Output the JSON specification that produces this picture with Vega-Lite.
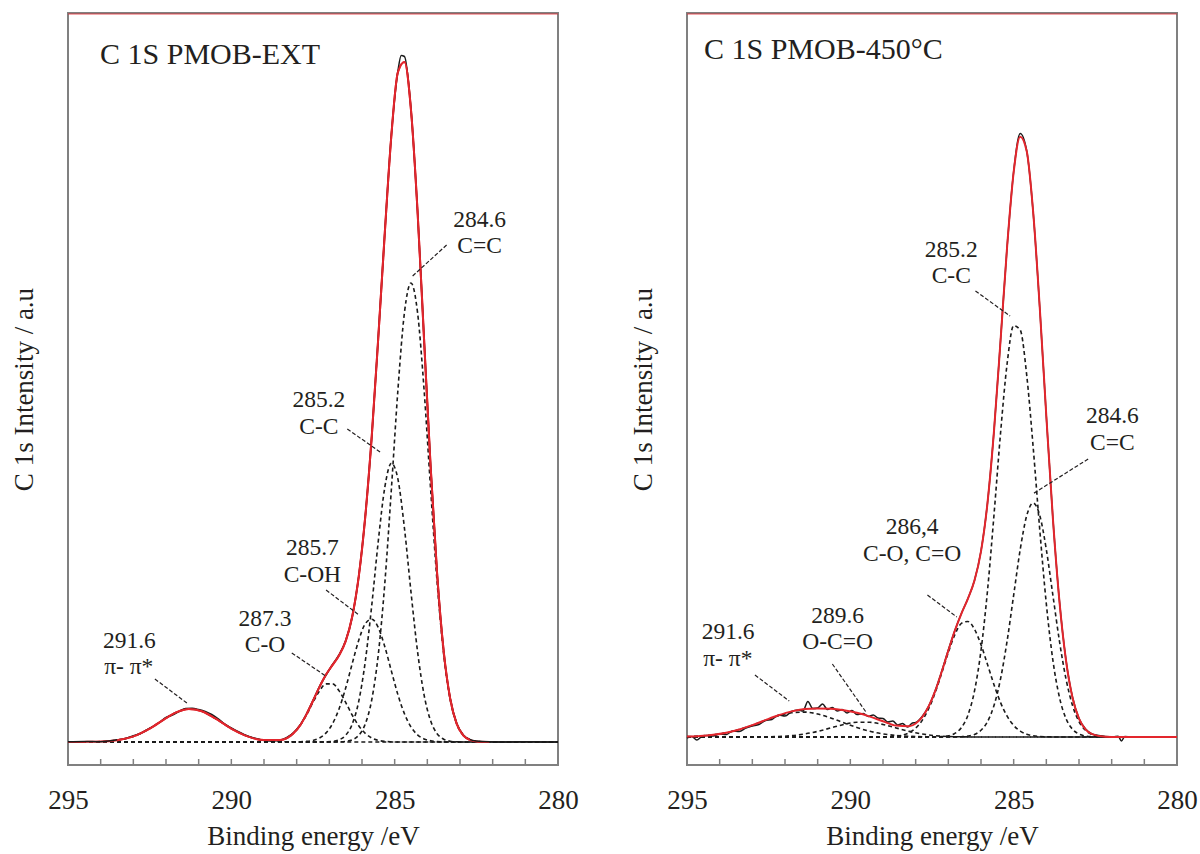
{
  "$schema": "https://vega.github.io/schema/vega-lite/v6.json",
  "background": "white",
  "padding": {"left": 9, "top": 12, "right": 2, "bottom": 2},
  "spacing": 129,
  "bounds": "flush",
  "config": {
    "view": {"stroke": "#808080", "strokeWidth": 2},
    "font": "Liberation Serif",
    "axis": {"grid": false, "domain": false, "ticks": false, "labelFont": "Liberation Serif", "titleFont": "Liberation Serif", "labelColor": "#231f20", "titleColor": "#231f20", "titleFontWeight": "normal"}
  },
  "datasets": {
    "ext": [
      {"E": 295.0, "a": 0, "b": 0, "c": 0, "d": 0, "p": 0, "env": 0},
      {"E": 294.5, "a": 0, "b": 0, "c": 0, "d": 0, "p": 0.1, "env": 0.1},
      {"E": 294.0, "a": 0, "b": 0, "c": 0, "d": 0, "p": 0.4, "env": 0.4},
      {"E": 293.5, "a": 0, "b": 0, "c": 0, "d": 0, "p": 1.8, "env": 1.8},
      {"E": 293.0, "a": 0, "b": 0, "c": 0, "d": 0, "p": 5.6, "env": 5.6},
      {"E": 292.5, "a": 0, "b": 0, "c": 0, "d": 0, "p": 13.4, "env": 13.4},
      {"E": 292.0, "a": 0, "b": 0, "c": 0, "d": 0, "p": 23.8, "env": 23.8},
      {"E": 291.7, "a": 0, "b": 0, "c": 0, "d": 0, "p": 29.4, "env": 29.4},
      {"E": 291.3, "a": 0, "b": 0, "c": 0, "d": 0, "p": 33.0, "env": 33.0},
      {"E": 290.9, "a": 0, "b": 0, "c": 0, "d": 0, "p": 30.7, "env": 30.7},
      {"E": 290.5, "a": 0, "b": 0, "c": 0, "d": 0, "p": 23.8, "env": 23.8},
      {"E": 290.0, "a": 0, "b": 0, "c": 0, "d": 0, "p": 13.4, "env": 13.4},
      {"E": 289.5, "a": 0, "b": 0, "c": 0, "d": 0, "p": 5.6, "env": 5.6},
      {"E": 289.0, "a": 0, "b": 0, "c": 0, "d": 0.1, "p": 1.8, "env": 1.9},
      {"E": 288.5, "a": 0, "b": 0, "c": 0, "d": 1.6, "p": 0.4, "env": 2.0},
      {"E": 288.1, "a": 0, "b": 0, "c": 0.05, "d": 8.6, "p": 0.1, "env": 8.75},
      {"E": 287.9, "a": 0, "b": 0, "c": 0.2, "d": 16.2, "p": 0, "env": 16.4},
      {"E": 287.7, "a": 0, "b": 0, "c": 0.6, "d": 27.0, "p": 0, "env": 27.6},
      {"E": 287.5, "a": 0, "b": 0, "c": 1.6, "d": 39.6, "p": 0, "env": 41.2},
      {"E": 287.3, "a": 0, "b": 0, "c": 4.0, "d": 51.1, "p": 0, "env": 55.1},
      {"E": 287.1, "a": 0, "b": 0.15, "c": 9.1, "d": 58.1, "p": 0, "env": 67.4},
      {"E": 286.9, "a": 0.03, "b": 0.6, "c": 18.4, "d": 58.1, "p": 0, "env": 77.1},
      {"E": 286.7, "a": 0.15, "b": 2.2, "c": 33.3, "d": 51.1, "p": 0, "env": 86.8},
      {"E": 286.5, "a": 0.6, "b": 6.7, "c": 54.0, "d": 39.6, "p": 0, "env": 100.9},
      {"E": 286.3, "a": 2.2, "b": 17.8, "c": 78.3, "d": 27.0, "p": 0, "env": 125.3},
      {"E": 286.1, "a": 6.7, "b": 40.7, "c": 101.7, "d": 16.2, "p": 0, "env": 165.3},
      {"E": 285.9, "a": 18.0, "b": 80.5, "c": 118.2, "d": 8.6, "p": 0, "env": 225.3},
      {"E": 285.7, "a": 42.5, "b": 137.1, "c": 122.8, "d": 4.0, "p": 0, "env": 306.4},
      {"E": 285.5, "a": 87.9, "b": 201.4, "c": 114.3, "d": 1.6, "p": 0, "env": 405.2},
      {"E": 285.3, "a": 159.4, "b": 255.1, "c": 95.1, "d": 0.6, "p": 0, "env": 510.2},
      {"E": 285.1, "a": 253.2, "b": 278.8, "c": 70.9, "d": 0.2, "p": 0, "env": 607},
      {"E": 284.9, "a": 352.3, "b": 262.8, "c": 47.2, "d": 0, "p": 0, "env": 670},
      {"E": 284.7, "a": 429.6, "b": 213.6, "c": 28.2, "d": 0, "p": 0, "env": 680},
      {"E": 284.5, "a": 459.0, "b": 149.8, "c": 15.0, "d": 0, "p": 0, "env": 632},
      {"E": 284.3, "a": 429.6, "b": 90.6, "c": 7.2, "d": 0, "p": 0, "env": 531},
      {"E": 284.1, "a": 352.3, "b": 47.2, "c": 3.1, "d": 0, "p": 0, "env": 402.6},
      {"E": 283.9, "a": 253.2, "b": 21.3, "c": 1.2, "d": 0, "p": 0, "env": 275.7},
      {"E": 283.7, "a": 159.4, "b": 8.3, "c": 0.4, "d": 0, "p": 0, "env": 168.1},
      {"E": 283.5, "a": 87.9, "b": 2.8, "c": 0.1, "d": 0, "p": 0, "env": 90.8},
      {"E": 283.3, "a": 42.5, "b": 0.8, "c": 0, "d": 0, "p": 0, "env": 43.3},
      {"E": 283.1, "a": 18.0, "b": 0.2, "c": 0, "d": 0, "p": 0, "env": 18.2},
      {"E": 282.9, "a": 6.7, "b": 0, "c": 0, "d": 0, "p": 0, "env": 6.7},
      {"E": 282.7, "a": 2.2, "b": 0, "c": 0, "d": 0, "p": 0, "env": 2.2},
      {"E": 282.5, "a": 0.6, "b": 0, "c": 0, "d": 0, "p": 0, "env": 0.6},
      {"E": 282.1, "a": 0, "b": 0, "c": 0, "d": 0, "p": 0, "env": 0},
      {"E": 281.0, "a": 0, "b": 0, "c": 0, "d": 0, "p": 0, "env": 0},
      {"E": 280.0, "a": 0, "b": 0, "c": 0, "d": 0, "p": 0, "env": 0}
    ],
    "ext_raw": [
      {"E": 295.0, "I": 0.3}, {"E": 294.5, "I": 0.6}, {"E": 294.0, "I": 0.2}, {"E": 293.7, "I": 1.2},
      {"E": 293.5, "I": 2.2}, {"E": 293.2, "I": 3.8}, {"E": 293.0, "I": 6.2}, {"E": 292.8, "I": 8.3},
      {"E": 292.5, "I": 13.8}, {"E": 292.2, "I": 19.5}, {"E": 292.0, "I": 24.6}, {"E": 291.8, "I": 27.0},
      {"E": 291.6, "I": 30.5}, {"E": 291.4, "I": 33.5}, {"E": 291.2, "I": 33.8}, {"E": 291.0, "I": 32.5},
      {"E": 290.8, "I": 30.6}, {"E": 290.6, "I": 27.5}, {"E": 290.4, "I": 23.2}, {"E": 290.2, "I": 18.0},
      {"E": 290.0, "I": 14.1}, {"E": 289.8, "I": 10.5}, {"E": 289.6, "I": 7.3}, {"E": 289.4, "I": 4.8},
      {"E": 289.2, "I": 3.1}, {"E": 289.0, "I": 1.6}, {"E": 288.7, "I": 1.0}, {"E": 288.5, "I": 1.8},
      {"E": 288.3, "I": 4.6}, {"E": 288.1, "I": 9.2}, {"E": 287.9, "I": 16.8}, {"E": 287.7, "I": 28.0},
      {"E": 287.5, "I": 41.5}, {"E": 287.3, "I": 55.5}, {"E": 287.1, "I": 67.0}, {"E": 286.9, "I": 77.5},
      {"E": 286.7, "I": 87.3}, {"E": 286.5, "I": 101.2}, {"E": 286.3, "I": 125.0}, {"E": 286.1, "I": 165.5},
      {"E": 285.9, "I": 225.5}, {"E": 285.7, "I": 306.0}, {"E": 285.5, "I": 405.5}, {"E": 285.3, "I": 510.5},
      {"E": 285.1, "I": 607.5}, {"E": 284.9, "I": 671.0}, {"E": 284.8, "I": 686.5}, {"E": 284.7, "I": 685.5},
      {"E": 284.5, "I": 632.5}, {"E": 284.3, "I": 531.0}, {"E": 284.1, "I": 403.0}, {"E": 283.9, "I": 276.0},
      {"E": 283.7, "I": 168.5}, {"E": 283.5, "I": 91.0}, {"E": 283.3, "I": 43.5}, {"E": 283.1, "I": 18.5},
      {"E": 282.9, "I": 7.0}, {"E": 282.7, "I": 2.6}, {"E": 282.5, "I": 1.0}, {"E": 282.1, "I": 0.2},
      {"E": 281.5, "I": 0}, {"E": 281.0, "I": 0.3}, {"E": 280.5, "I": 0}, {"E": 280.0, "I": 0}
    ],
    "hot": [
      {"E": 295.0, "a": 0, "b": 0, "c": 0, "d": 0, "p": 0.42, "env": 0.42},
      {"E": 294.6, "a": 0, "b": 0, "c": 0, "d": 0, "p": 1.0, "env": 1.0},
      {"E": 294.2, "a": 0, "b": 0, "c": 0, "d": 0, "p": 2.2, "env": 2.2},
      {"E": 293.8, "a": 0, "b": 0, "c": 0, "d": 0, "p": 4.3, "env": 4.3},
      {"E": 293.4, "a": 0, "b": 0, "c": 0, "d": 0.01, "p": 7.5, "env": 7.5},
      {"E": 293.0, "a": 0, "b": 0, "c": 0, "d": 0.05, "p": 11.8, "env": 11.85},
      {"E": 292.6, "a": 0, "b": 0, "c": 0, "d": 0.17, "p": 16.7, "env": 16.9},
      {"E": 292.2, "a": 0, "b": 0, "c": 0, "d": 0.5, "p": 21.2, "env": 21.7},
      {"E": 291.8, "a": 0, "b": 0, "c": 0, "d": 1.3, "p": 24.3, "env": 25.6},
      {"E": 291.4, "a": 0, "b": 0, "c": 0, "d": 3.0, "p": 24.9, "env": 27.9},
      {"E": 291.0, "a": 0, "b": 0, "c": 0, "d": 5.6, "p": 23.0, "env": 28.6},
      {"E": 290.6, "a": 0, "b": 0, "c": 0, "d": 9.1, "p": 19.1, "env": 28.2},
      {"E": 290.2, "a": 0, "b": 0, "c": 0, "d": 12.5, "p": 14.2, "env": 26.7},
      {"E": 289.8, "a": 0, "b": 0, "c": 0, "d": 14.7, "p": 9.5, "env": 24.2},
      {"E": 289.4, "a": 0, "b": 0, "c": 0, "d": 14.7, "p": 5.7, "env": 20.4},
      {"E": 289.0, "a": 0, "b": 0, "c": 0.1, "d": 12.5, "p": 3.1, "env": 15.7},
      {"E": 288.6, "a": 0, "b": 0, "c": 0.8, "d": 9.1, "p": 1.5, "env": 11.4},
      {"E": 288.2, "a": 0, "b": 0, "c": 4.4, "d": 5.6, "p": 0.7, "env": 10.7},
      {"E": 288.0, "a": 0, "b": 0, "c": 8.9, "d": 4.2, "p": 0.4, "env": 13.5},
      {"E": 287.8, "a": 0, "b": 0, "c": 16.6, "d": 3.0, "p": 0.3, "env": 19.9},
      {"E": 287.6, "a": 0, "b": 0, "c": 28.5, "d": 2.0, "p": 0.2, "env": 30.7},
      {"E": 287.4, "a": 0.1, "b": 0, "c": 44.6, "d": 1.3, "p": 0.1, "env": 46.1},
      {"E": 287.2, "a": 0.4, "b": 0, "c": 64.2, "d": 0.8, "p": 0.05, "env": 65.5},
      {"E": 287.0, "a": 1.2, "b": 0.03, "c": 84.6, "d": 0.5, "p": 0, "env": 86.4},
      {"E": 286.8, "a": 3.6, "b": 0.1, "c": 102.4, "d": 0.3, "p": 0, "env": 106.4},
      {"E": 286.6, "a": 9.4, "b": 0.3, "c": 113.6, "d": 0.2, "p": 0, "env": 123.4},
      {"E": 286.4, "a": 21.9, "b": 0.9, "c": 115.5, "d": 0.1, "p": 0, "env": 138.4},
      {"E": 286.2, "a": 45.9, "b": 2.6, "c": 107.8, "d": 0.05, "p": 0, "env": 156.4},
      {"E": 286.0, "a": 86.6, "b": 6.7, "c": 92.3, "d": 0, "p": 0, "env": 185.6},
      {"E": 285.8, "a": 146.6, "b": 15.4, "c": 72.4, "d": 0, "p": 0, "env": 234.4},
      {"E": 285.6, "a": 223.0, "b": 31.7, "c": 52.1, "d": 0, "p": 0, "env": 306.8},
      {"E": 285.4, "a": 304.5, "b": 58.4, "c": 34.4, "d": 0, "p": 0, "env": 397.3},
      {"E": 285.2, "a": 373.5, "b": 96.2, "c": 20.8, "d": 0, "p": 0, "env": 490.5},
      {"E": 285.0, "a": 411.4, "b": 141.9, "c": 11.6, "d": 0, "p": 0, "env": 564.9},
      {"E": 284.8, "a": 407.0, "b": 187.4, "c": 5.9, "d": 0, "p": 0, "env": 600.3},
      {"E": 284.6, "a": 361.6, "b": 221.4, "c": 2.75, "d": 0, "p": 0, "env": 585.8},
      {"E": 284.4, "a": 288.6, "b": 234.0, "c": 1.2, "d": 0, "p": 0, "env": 523.8},
      {"E": 284.2, "a": 206.8, "b": 221.4, "c": 0.5, "d": 0, "p": 0, "env": 428.7},
      {"E": 284.0, "a": 133.1, "b": 187.4, "c": 0.2, "d": 0, "p": 0, "env": 320.7},
      {"E": 283.8, "a": 76.9, "b": 141.9, "c": 0.05, "d": 0, "p": 0, "env": 218.9},
      {"E": 283.6, "a": 39.9, "b": 96.2, "c": 0, "d": 0, "p": 0, "env": 136.1},
      {"E": 283.4, "a": 18.6, "b": 58.4, "c": 0, "d": 0, "p": 0, "env": 77.0},
      {"E": 283.2, "a": 7.8, "b": 31.7, "c": 0, "d": 0, "p": 0, "env": 39.5},
      {"E": 283.0, "a": 2.9, "b": 15.4, "c": 0, "d": 0, "p": 0, "env": 18.3},
      {"E": 282.8, "a": 1.0, "b": 6.7, "c": 0, "d": 0, "p": 0, "env": 7.7},
      {"E": 282.6, "a": 0.3, "b": 2.6, "c": 0, "d": 0, "p": 0, "env": 2.9},
      {"E": 282.2, "a": 0, "b": 0.3, "c": 0, "d": 0, "p": 0, "env": 0.3},
      {"E": 281.8, "a": 0, "b": 0, "c": 0, "d": 0, "p": 0, "env": 0},
      {"E": 281.0, "a": 0, "b": 0, "c": 0, "d": 0, "p": 0, "env": 0},
      {"E": 280.0, "a": 0, "b": 0, "c": 0, "d": 0, "p": 0, "env": 0}
    ],
    "hot_raw": [
      {"E": 295.0, "I": -1}, {"E": 294.85, "I": 0.5}, {"E": 294.7, "I": -3}, {"E": 294.55, "I": 0.5},
      {"E": 294.4, "I": 1.5}, {"E": 294.2, "I": 1.0}, {"E": 294.0, "I": 3.0}, {"E": 293.8, "I": 2.5},
      {"E": 293.6, "I": 6.0}, {"E": 293.4, "I": 5.5}, {"E": 293.2, "I": 9.0}, {"E": 293.0, "I": 11.0},
      {"E": 292.8, "I": 12.5}, {"E": 292.6, "I": 16.5}, {"E": 292.4, "I": 17.5}, {"E": 292.2, "I": 22.0},
      {"E": 292.0, "I": 21.0}, {"E": 291.8, "I": 25.5}, {"E": 291.6, "I": 27.0}, {"E": 291.45, "I": 26.0},
      {"E": 291.3, "I": 35.5}, {"E": 291.15, "I": 28.5}, {"E": 291.0, "I": 29.0}, {"E": 290.85, "I": 33.0},
      {"E": 290.7, "I": 27.5}, {"E": 290.55, "I": 29.5}, {"E": 290.4, "I": 26.0}, {"E": 290.25, "I": 27.5},
      {"E": 290.1, "I": 24.0}, {"E": 289.95, "I": 26.5}, {"E": 289.8, "I": 22.5}, {"E": 289.6, "I": 23.5},
      {"E": 289.45, "I": 20.5}, {"E": 289.3, "I": 22.0}, {"E": 289.15, "I": 19.0}, {"E": 289.0, "I": 18.5},
      {"E": 288.85, "I": 15.0}, {"E": 288.7, "I": 16.0}, {"E": 288.55, "I": 12.0}, {"E": 288.4, "I": 13.5},
      {"E": 288.25, "I": 10.0}, {"E": 288.1, "I": 14.0}, {"E": 288.0, "I": 14.5}, {"E": 287.8, "I": 20.5},
      {"E": 287.6, "I": 31.0}, {"E": 287.4, "I": 46.5}, {"E": 287.2, "I": 66.0}, {"E": 287.0, "I": 87.0},
      {"E": 286.8, "I": 106.5}, {"E": 286.6, "I": 123.5}, {"E": 286.4, "I": 138.5}, {"E": 286.2, "I": 156.5},
      {"E": 286.0, "I": 186.0}, {"E": 285.8, "I": 234.5}, {"E": 285.6, "I": 307.0}, {"E": 285.4, "I": 397.5},
      {"E": 285.2, "I": 490.5}, {"E": 285.0, "I": 565.5}, {"E": 284.8, "I": 603.5}, {"E": 284.6, "I": 586.0},
      {"E": 284.4, "I": 523.5}, {"E": 284.2, "I": 428.5}, {"E": 284.0, "I": 320.5}, {"E": 283.8, "I": 219.0},
      {"E": 283.6, "I": 136.5}, {"E": 283.4, "I": 77.5}, {"E": 283.2, "I": 40.0}, {"E": 283.0, "I": 18.5},
      {"E": 282.8, "I": 8.0}, {"E": 282.6, "I": 3.0}, {"E": 282.2, "I": 0.5}, {"E": 281.95, "I": 0.0},
      {"E": 281.8, "I": 0.8}, {"E": 281.7, "I": -4.0}, {"E": 281.6, "I": 0.5}, {"E": 281.4, "I": 0.0},
      {"E": 281.0, "I": 0.0}, {"E": 280.5, "I": 0.0}, {"E": 280.0, "I": 0.0}
    ],
    "ticks": [
      {"E": 280}, {"E": 281}, {"E": 282}, {"E": 283}, {"E": 284}, {"E": 285}, {"E": 286}, {"E": 287},
      {"E": 288}, {"E": 289}, {"E": 290}, {"E": 291}, {"E": 292}, {"E": 293}, {"E": 294}, {"E": 295}
    ],
    "ext_ann": [
      {"E": 282.4, "y": 515, "t": "284.6"}, {"E": 282.4, "y": 489, "t": "C=C"},
      {"E": 287.32, "y": 335, "t": "285.2"}, {"E": 287.32, "y": 308, "t": "C-C"},
      {"E": 287.52, "y": 187, "t": "285.7"}, {"E": 287.52, "y": 160, "t": "C-OH"},
      {"E": 288.97, "y": 116, "t": "287.3"}, {"E": 288.97, "y": 90, "t": "C-O"},
      {"E": 293.12, "y": 94, "t": "291.6"}, {"E": 293.14, "y": 68, "t": "π- π*"}
    ],
    "ext_lead": [
      {"x1": 283.41, "y1": 497, "x2": 284.45, "y2": 466},
      {"x1": 286.45, "y1": 313, "x2": 285.40, "y2": 289},
      {"x1": 287.10, "y1": 152, "x2": 286.09, "y2": 127},
      {"x1": 288.15, "y1": 89, "x2": 287.11, "y2": 66},
      {"x1": 292.34, "y1": 63, "x2": 291.32, "y2": 38}
    ],
    "hot_ann": [
      {"E": 286.91, "y": 480, "t": "285.2"}, {"E": 286.91, "y": 454, "t": "C-C"},
      {"E": 281.98, "y": 314, "t": "284.6"}, {"E": 281.98, "y": 287, "t": "C=C"},
      {"E": 288.11, "y": 203, "t": "286,4"}, {"E": 288.11, "y": 176, "t": "C-O, C=O"},
      {"E": 290.39, "y": 114, "t": "289.6"}, {"E": 290.39, "y": 88, "t": "O-C=O"},
      {"E": 293.74, "y": 98, "t": "291.6"}, {"E": 293.75, "y": 71, "t": "π- π*"}
    ],
    "hot_lead": [
      {"x1": 286.17, "y1": 446, "x2": 285.11, "y2": 421},
      {"x1": 282.72, "y1": 278, "x2": 284.42, "y2": 243},
      {"x1": 287.64, "y1": 142, "x2": 286.74, "y2": 120},
      {"x1": 290.55, "y1": 73, "x2": 289.50, "y2": 24},
      {"x1": 292.92, "y1": 62, "x2": 291.87, "y2": 36}
    ],
    "ext_title": [{"E": 294.02, "y": 678, "t": "C 1S PMOB-EXT"}],
    "hot_title": [{"E": 294.48, "y": 678, "t": "C 1S PMOB-450°C"}],
    "one": [{"k": 1}]
  },
  "hconcat": [
    {
      "width": 490,
      "height": 752,
      "layer": [
        {
          "data": {"name": "ext"},
          "transform": [{"fold": ["a", "b", "c", "d", "p"], "as": ["comp", "I"]}],
          "mark": {"type": "line", "color": "#1a1a1a", "strokeWidth": 1.6, "strokeDash": [4, 3], "interpolate": "monotone"},
          "encoding": {
            "x": {"field": "E", "type": "quantitative", "scale": {"domain": [280, 295], "reverse": true, "nice": false, "zero": false},
                  "axis": {"title": "Binding energy /eV", "values": [295, 290, 285, 280], "format": "d", "labelFontSize": 27, "labelPadding": 22, "labelFlush": false, "labelOverlap": false, "labelBound": false, "titleFontSize": 27, "titlePadding": 10}},
            "y": {"field": "I", "type": "quantitative", "scale": {"domain": [-23, 729], "nice": false, "zero": false},
                  "axis": {"title": "C 1s Intensity / a.u", "labels": false, "titleFontSize": 27, "titlePadding": 30}},
            "detail": {"field": "comp"}
          }
        },
        {
          "data": {"name": "ext"},
          "transform": [{"filter": "datum.E >= 282.1"}],
          "mark": {"type": "line", "color": "#e3262d", "strokeWidth": 2, "interpolate": "monotone"},
          "encoding": {
            "x": {"field": "E", "type": "quantitative"},
            "y": {"field": "env", "type": "quantitative"}
          }
        },
        {
          "data": {"name": "ext_raw"},
          "mark": {"type": "line", "color": "#1a1a1a", "strokeWidth": 1.5, "interpolate": "monotone"},
          "encoding": {
            "x": {"field": "E", "type": "quantitative"},
            "y": {"field": "I", "type": "quantitative"}
          }
        },
        {
          "data": {"name": "ext"},
          "transform": [{"filter": "datum.E >= 282.1 && datum.env > 1"}],
          "mark": {"type": "line", "color": "#e3262d", "strokeWidth": 2, "interpolate": "monotone"},
          "encoding": {
            "x": {"field": "E", "type": "quantitative"},
            "y": {"field": "env", "type": "quantitative"}
          }
        },
        {
          "data": {"name": "ticks"},
          "mark": {"type": "rule", "color": "#808080", "strokeWidth": 1.5},
          "encoding": {
            "x": {"field": "E", "type": "quantitative"},
            "y": {"datum": -23},
            "y2": {"datum": -17}
          }
        },
        {
          "data": {"name": "one"},
          "mark": {"type": "rule", "color": "#e3262d", "strokeWidth": 1, "opacity": 0.8},
          "encoding": {"y": {"datum": 728}}
        },
        {
          "data": {"name": "ext_lead"},
          "mark": {"type": "rule", "color": "#231f20", "strokeWidth": 1.2, "strokeDash": [4, 2]},
          "encoding": {
            "x": {"field": "x1", "type": "quantitative"},
            "x2": {"field": "x2"},
            "y": {"field": "y1", "type": "quantitative"},
            "y2": {"field": "y2"}
          }
        },
        {
          "data": {"name": "ext_ann"},
          "mark": {"type": "text", "font": "Liberation Serif", "fontSize": 23.5, "color": "#231f20", "align": "center", "baseline": "alphabetic"},
          "encoding": {
            "x": {"field": "E", "type": "quantitative"},
            "y": {"field": "y", "type": "quantitative"},
            "text": {"field": "t"}
          }
        },
        {
          "data": {"name": "ext_title"},
          "mark": {"type": "text", "font": "Liberation Serif", "fontSize": 30, "color": "#231f20", "align": "left", "baseline": "alphabetic"},
          "encoding": {
            "x": {"field": "E", "type": "quantitative"},
            "y": {"field": "y", "type": "quantitative"},
            "text": {"field": "t"}
          }
        }
      ]
    },
    {
      "width": 490,
      "height": 752,
      "layer": [
        {
          "data": {"name": "hot"},
          "transform": [{"fold": ["a", "b", "c", "d", "p"], "as": ["comp", "I"]}],
          "mark": {"type": "line", "color": "#1a1a1a", "strokeWidth": 1.6, "strokeDash": [4, 3], "interpolate": "monotone"},
          "encoding": {
            "x": {"field": "E", "type": "quantitative", "scale": {"domain": [280, 295], "reverse": true, "nice": false, "zero": false},
                  "axis": {"title": "Binding energy /eV", "values": [295, 290, 285, 280], "format": "d", "labelFontSize": 27, "labelPadding": 22, "labelFlush": false, "labelOverlap": false, "labelBound": false, "titleFontSize": 27, "titlePadding": 10}},
            "y": {"field": "I", "type": "quantitative", "scale": {"domain": [-28, 724], "nice": false, "zero": false},
                  "axis": {"title": "C 1s Intensity / a.u", "labels": false, "titleFontSize": 27, "titlePadding": 30}},
            "detail": {"field": "comp"}
          }
        },
        {
          "data": {"name": "hot_raw"},
          "mark": {"type": "line", "color": "#1a1a1a", "strokeWidth": 1.5, "interpolate": "monotone"},
          "encoding": {
            "x": {"field": "E", "type": "quantitative"},
            "y": {"field": "I", "type": "quantitative"}
          }
        },
        {
          "data": {"name": "hot"},
          "mark": {"type": "line", "color": "#e3262d", "strokeWidth": 2, "interpolate": "monotone"},
          "encoding": {
            "x": {"field": "E", "type": "quantitative"},
            "y": {"field": "env", "type": "quantitative"}
          }
        },
        {
          "data": {"name": "ticks"},
          "mark": {"type": "rule", "color": "#808080", "strokeWidth": 1.5},
          "encoding": {
            "x": {"field": "E", "type": "quantitative"},
            "y": {"datum": -28},
            "y2": {"datum": -22}
          }
        },
        {
          "data": {"name": "one"},
          "mark": {"type": "rule", "color": "#e3262d", "strokeWidth": 1, "opacity": 0.8},
          "encoding": {"y": {"datum": 723}}
        },
        {
          "data": {"name": "hot_lead"},
          "mark": {"type": "rule", "color": "#231f20", "strokeWidth": 1.2, "strokeDash": [4, 2]},
          "encoding": {
            "x": {"field": "x1", "type": "quantitative"},
            "x2": {"field": "x2"},
            "y": {"field": "y1", "type": "quantitative"},
            "y2": {"field": "y2"}
          }
        },
        {
          "data": {"name": "hot_ann"},
          "mark": {"type": "text", "font": "Liberation Serif", "fontSize": 23.5, "color": "#231f20", "align": "center", "baseline": "alphabetic"},
          "encoding": {
            "x": {"field": "E", "type": "quantitative"},
            "y": {"field": "y", "type": "quantitative"},
            "text": {"field": "t"}
          }
        },
        {
          "data": {"name": "hot_title"},
          "mark": {"type": "text", "font": "Liberation Serif", "fontSize": 30, "color": "#231f20", "align": "left", "baseline": "alphabetic"},
          "encoding": {
            "x": {"field": "E", "type": "quantitative"},
            "y": {"field": "y", "type": "quantitative"},
            "text": {"field": "t"}
          }
        }
      ]
    }
  ]
}
